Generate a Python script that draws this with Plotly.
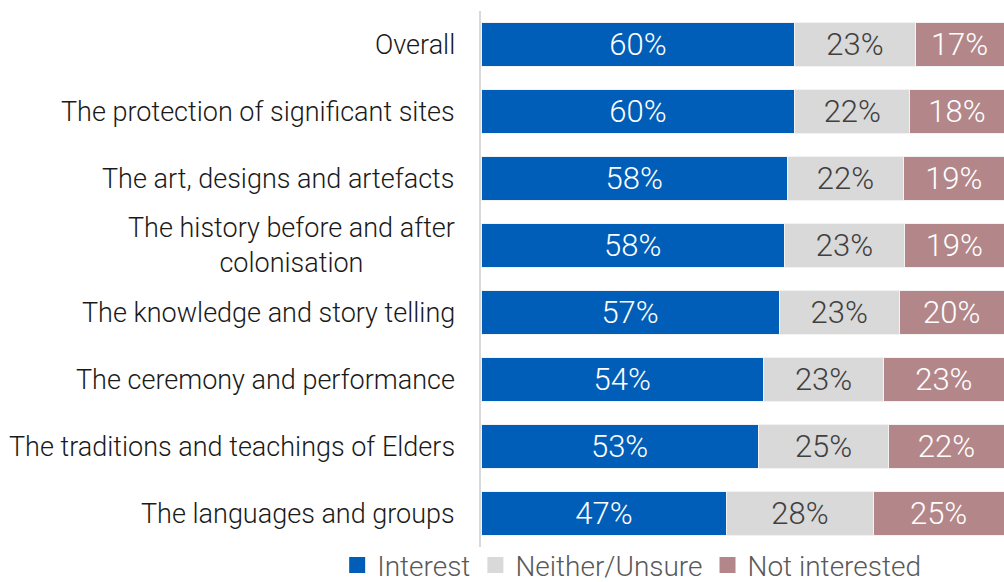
import plotly.graph_objects as go

categories = [
    "Overall",
    "The protection of significant sites",
    "The art, designs and artefacts",
    "The history before and after<br>colonisation",
    "The knowledge and story telling",
    "The ceremony and performance",
    "The traditions and teachings of Elders",
    "The languages and groups",
]
interest = [60, 60, 58, 58, 57, 54, 53, 47]
neither = [23, 22, 22, 23, 23, 23, 25, 28]
not_interested = [17, 18, 19, 19, 20, 23, 22, 25]

series = [
    ("Interest", interest, "#005EB8", "#FFFFFF"),
    ("Neither/Unsure", neither, "#D9D9D9", "#404040"),
    ("Not interested", not_interested, "#B3878A", "#FFFFFF"),
]

FONT = "Roboto"

fig = go.Figure()
for name, vals, color, tcolor in series:
    fig.add_trace(go.Bar(
        y=categories,
        x=vals,
        name=name,
        orientation="h",
        marker=dict(color=color, line=dict(color="#F2F2F2", width=1)),
        text=[f"{v}%" for v in vals],
        textposition="inside",
        insidetextanchor="middle",
        textfont=dict(family=FONT, size=31, color=tcolor, weight=300),
        hoverinfo="skip",
        showlegend=False,
    ))

# legend keys: square swatches in each series colour
for name, vals, color, tcolor in series:
    fig.add_trace(go.Scatter(
        x=[None], y=[None], mode="markers", name=name,
        marker=dict(symbol="square", size=16, color=color),
        hoverinfo="skip",
    ))

# category labels as centred multi-line annotations left of the axis
for cat in categories:
    fig.add_annotation(
        x=0, y=cat, xref="paper", yref="y",
        text=cat, showarrow=False,
        xanchor="right", yanchor="middle", align="center",
        xshift=-24,
        font=dict(family=FONT, size=27, color="#1A1A1A", weight=300),
    )

fig.update_layout(
    width=1004, height=582,
    margin=dict(l=481, r=0, t=11, b=35, autoexpand=False),
    barmode="stack",
    barnorm="percent",
    bargap=0.33,
    plot_bgcolor="white",
    paper_bgcolor="white",
    showlegend=True,
    legend=dict(
        orientation="h",
        xref="paper", yref="paper",
        x=-0.275, xanchor="left",
        y=-0.034, yanchor="middle",
        font=dict(family=FONT, size=28, color="#595959", weight=300),
        itemwidth=30,
        traceorder="normal",
        bgcolor="rgba(0,0,0,0)",
    ),
    xaxis=dict(range=[0, 100], visible=False, fixedrange=True),
    yaxis=dict(
        autorange="reversed",
        showticklabels=False,
        showline=True, linecolor="#D9D9D9", linewidth=2,
        ticks="",
    ),
)

fig.write_html("out.html")
